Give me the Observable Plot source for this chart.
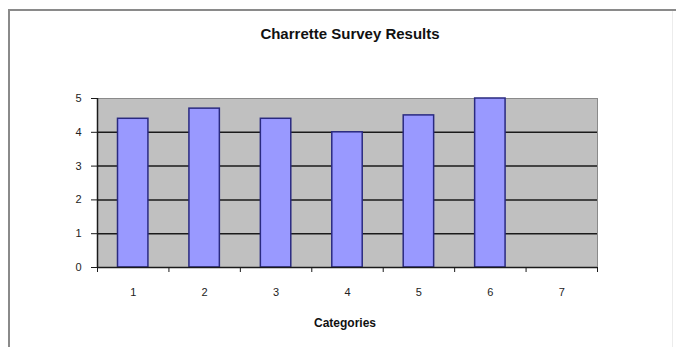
<!DOCTYPE html>
<html>
<head>
<meta charset="utf-8">
<script src="https://cdn.jsdelivr.net/npm/d3@7"></script>
<script src="https://cdn.jsdelivr.net/npm/@observablehq/plot@0.6"></script>
<style>
  html, body { margin: 0; padding: 0; background: #fff; overflow: hidden; }
  #wrap { position: relative; width: 676px; height: 347px; overflow: hidden; font-family: Arial, "Liberation Sans", sans-serif; }
  #ftop { position: absolute; left: 8px; top: 9px; width: 668px; height: 2px; background: #8a8a8a; }
  #fleft { position: absolute; left: 8px; top: 9px; width: 2px; height: 338px; background: #8a8a8a; }
  #fright { position: absolute; left: 672px; top: 11px; width: 1px; height: 336px; background: #ececec; }
  #title { position: absolute; left: 0; width: 700px; top: 25px; text-align: center; font-weight: bold; font-size: 15px; color: #111; }
  #xlabel { position: absolute; left: 0; width: 690px; top: 316px; text-align: center; font-weight: bold; font-size: 12px; color: #111; }
  #chart { position: absolute; left: 0; top: 0; }
</style>
</head>
<body>
<div id="wrap">
  <div id="chart"></div>
  <div id="ftop"></div>
  <div id="fleft"></div>
  <div id="fright"></div>
  <div id="title">Charrette Survey Results</div>
  <div id="xlabel">Categories</div>
</div>
<script>
const categories = [1, 2, 3, 4, 5, 6, 7];
const scores = [4.4, 4.7, 4.4, 4.0, 4.5, 5.0, null];
const yTicks = [0, 1, 2, 3, 4, 5];
const gridValues = [1, 2, 3, 4];

const data = categories.map((c, i) => ({cat: c, score: scores[i]})).filter(d => d.score != null);
const boundaries = d3.range(categories.length + 1).map(i => i + 0.5);

const chart = Plot.plot({
  width: 676,
  height: 347,
  marginLeft: 97,
  marginRight: 79,
  marginTop: 98,
  marginBottom: 80,
  style: {fontFamily: "Arial, 'Liberation Sans', sans-serif", fontSize: "11px", color: "#222", background: "transparent"},
  x: {type: "linear", domain: [0.5, categories.length + 0.5]},
  y: {domain: [0, 5]},
  marks: [
    Plot.frame({fill: "#c0c0c0", stroke: "#8a8a8a"}),
    Plot.ruleY(gridValues, {stroke: "#1a1a1a", strokeWidth: 1.5}),
    Plot.rectY(data, {x1: d => d.cat - 0.5, x2: d => d.cat + 0.5, y1: 0, y2: "score", insetLeft: 20.5, insetRight: 20.5, fill: "#9999ff", stroke: "#2a2a80", strokeWidth: 1.5}),
    Plot.axisY({ticks: yTicks, tickSize: 6, tickPadding: 10, tickFormat: d3.format("d"), label: null, stroke: "#1a1a1a"}),
    Plot.ruleX([0.5], {stroke: "#1a1a1a", strokeWidth: 1.5}),
    Plot.ruleY([0], {stroke: "#1a1a1a", strokeWidth: 1.5}),
    Plot.axisX({ticks: boundaries, tickSize: 5, tickFormat: () => "", label: null, stroke: "#1a1a1a"}),
    Plot.axisX({ticks: categories, tickSize: 0, tickPadding: 21, tickFormat: d => String(d), label: null})
  ]
});
document.getElementById("chart").appendChild(chart);
</script>
</body>
</html>
